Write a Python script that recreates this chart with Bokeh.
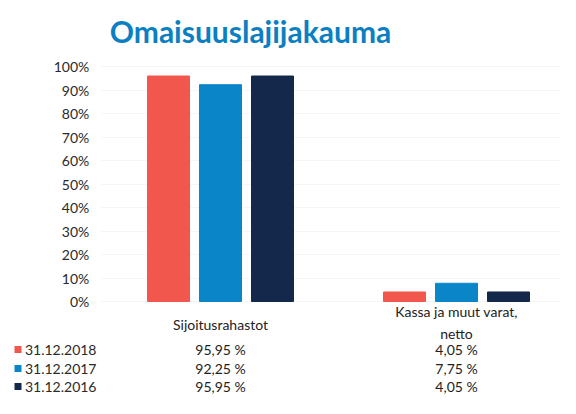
from bokeh.plotting import figure
from bokeh.models import ColumnDataSource, FixedTicker, Range1d, LinearAxis, Grid
from bokeh.core.properties import value
from bokeh.embed import file_html
from bokeh.resources import INLINE

# ---- data ----
title = "Omaisuuslajijakauma"
categories = ["Sijoitusrahastot", "Kassa ja muut varat,\nnetto"]
series = ["31.12.2018", "31.12.2017", "31.12.2016"]
v2018 = [95.95, 4.05]
v2017 = [92.25, 7.75]
v2016 = [95.95, 4.05]
colors = ["#f1574c", "#0a86c8", "#14284b"]
y_ticks = [0, 10, 20, 30, 40, 50, 60, 70, 80, 90, 100]

values = [v2018, v2017, v2016]
FONT = "Lato"
TXT = "#222222"
NB = "\u00a0"

# ---- pixel helpers (picture px -> data) ----
W, H = 560, 398
LEFT = 100
def xv(px):
    return (px - 220) / 236.0
def yv(py):
    return (301 - py) / 2.35

p = figure(width=W, height=H, output_backend="svg", toolbar_location=None,
           x_range=Range1d(xv(LEFT), xv(W)), y_range=Range1d(yv(H), yv(0)),
           min_border_left=LEFT, min_border_right=0, min_border_top=0, min_border_bottom=0)
p.outline_line_color = None
p.xaxis.visible = False
p.xgrid.visible = False
p.ygrid.visible = False

# very faint horizontal gridlines at the percent ticks
p.add_layout(Grid(dimension=1, ticker=FixedTicker(ticks=y_ticks), grid_line_color="#f5f5f5"))

# table row positions (data units)
row_y = [round(yv(py), 1) for py in (349, 368, 386)]

# main y axis: percent ticks + legend/date labels of the data table
ax = p.yaxis[0]
ax.ticker = FixedTicker(ticks=y_ticks + row_y)
overrides = {t: f"{t}%" + NB * 2 for t in y_ticks}
overrides.update({ry: NB * 2 + s for ry, s in zip(row_y, series)})
ax.major_label_overrides = overrides
ax.axis_line_color = None
ax.major_tick_line_color = None
ax.minor_tick_line_color = None
ax.major_tick_in = 0
ax.major_tick_out = 0
ax.major_label_standoff = 4
ax.major_label_text_font = FONT
ax.major_label_text_font_size = "14px"
ax.major_label_text_color = "#2a2a2a"

# legend key swatches (one small axis per series, tick drawn as a square)
for ry, c in zip(row_y, colors):
    sw = LinearAxis(ticker=FixedTicker(ticks=[ry]), major_label_overrides={ry: ""},
                    axis_line_color=None, minor_tick_line_color=None,
                    major_tick_in=7, major_tick_out=0, major_tick_line_color=c,
                    major_tick_line_width=7, major_label_standoff=0)
    p.add_layout(sw, "left")

# bars
offsets = [-52 / 236.0, 0.0, 52 / 236.0]
bw = 42 / 236.0
for i, (vals, c) in enumerate(zip(values, colors)):
    src = ColumnDataSource(dict(x=[k + offsets[i] for k in range(len(categories))], top=vals))
    p.vbar(x="x", top="top", bottom=0, width=bw, color=c, source=src)

# title
p.text(x=[xv(250)], y=[yv(30)], text=[title], text_font=value(FONT), text_font_style="bold",
       text_font_size="30px", text_color="#0b7fc2", text_align="center", text_baseline="middle")

# category labels
cat_y = [yv(324), yv(322)]
p.text(x=list(range(len(categories))), y=cat_y, text=categories, text_font=value(FONT),
       text_font_size="14px", text_color=TXT, text_align="center", text_baseline="middle",
       text_line_height=1.3)

# table values
for r, vals in enumerate(values):
    txt = [f"{v:.2f}".replace(".", ",") + " %" for v in vals]
    p.text(x=list(range(len(categories))), y=[row_y[r]] * len(vals), text=txt,
           text_font=value(FONT), text_font_size="14px", text_color=TXT,
           text_align="center", text_baseline="middle")

open("out.html", "w").write(file_html(p, INLINE))
